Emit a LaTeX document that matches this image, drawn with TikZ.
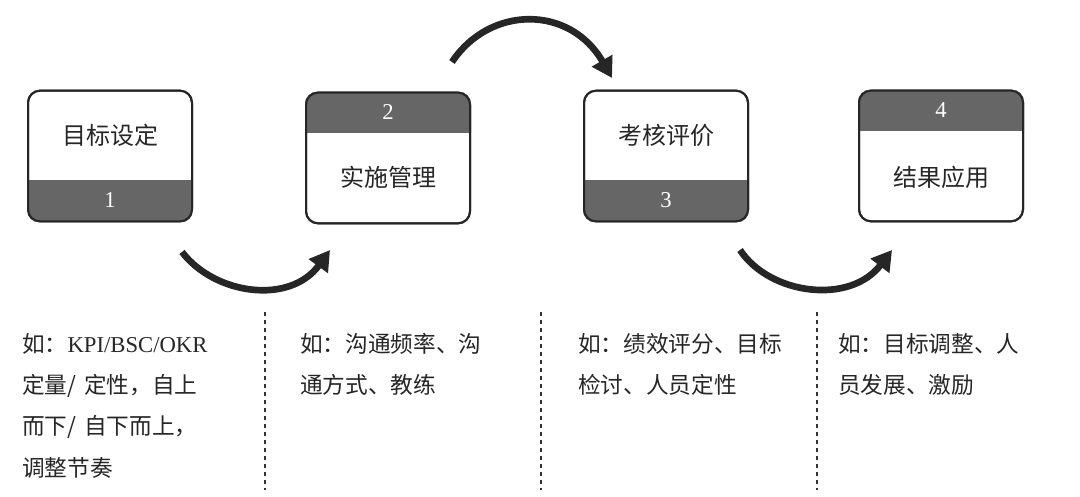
\documentclass[tikz,border=0pt]{standalone}
\usepackage{fontspec}
\setmainfont{Liberation Serif}
\newfontfamily\cjk{Noto Sans CJK SC}
\usetikzlibrary{arrows.meta}
\usetikzlibrary{positioning}
\tikzset{
  stagebox/.style={draw=black!85, line width=1.5pt, rounded corners=9pt, minimum width=123pt, minimum height=98pt},
  bandfill/.style={fill=black!60},
  stagetext/.style={font=\cjk\fontsize{18}{22}\selectfont, text=black!85},
  numtext/.style={font=\fontsize{17}{20}\selectfont, text=white},
  flowarrow/.style={line width=5pt, draw=black!85, -{Triangle[length=15pt,width=17pt]}},
  sepline/.style={dashed, line width=1pt, draw=black!80},
  notetext/.style={font=\cjk\fontsize{17}{31}\selectfont, text=black!85, align=left, anchor=north west, text width=185pt, inner sep=0pt}
}
\begin{document}
\begin{tikzpicture}[x=0.75pt,y=-0.75pt]
\useasboundingbox (0,0) rectangle (1080,496);
% stage 1
\node[stagebox] (s1) at (110,156) {};
\begin{scope}
  \clip[rounded corners=9pt] (s1.south west) rectangle (s1.north east);
  \fill[bandfill] (28,180) rectangle (192,222);
\end{scope}
\node[stagebox] at (s1) {};
\node[stagetext] (t1) at (110,135) {目标设定};
\node[numtext] (n1) at (110,200) {1};
% stage 2
\node[stagebox] (s2) at (388,158) {};
\begin{scope}
  \clip[rounded corners=9pt] (s2.south west) rectangle (s2.north east);
  \fill[bandfill] (300,90) rectangle (476,133);
\end{scope}
\node[stagebox] at (s2) {};
\node[numtext] (n2) at (388,112) {2};
\node[stagetext] (t2) at (388,177) {实施管理};
% stage 3
\node[stagebox] (s3) at (666,156) {};
\begin{scope}
  \clip[rounded corners=9pt] (s3.south west) rectangle (s3.north east);
  \fill[bandfill] (580,180) rectangle (752,222);
\end{scope}
\node[stagebox] at (s3) {};
\node[stagetext] (t3) at (666,135) {考核评价};
\node[numtext] (n3) at (666,200) {3};
% stage 4
\node[stagebox] (s4) at (941,156) {};
\begin{scope}
  \clip[rounded corners=9pt] (s4.south west) rectangle (s4.north east);
  \fill[bandfill] (855,88) rectangle (1027,131);
\end{scope}
\node[stagebox] at (s4) {};
\node[numtext] (n4) at (941,110) {4};
\node[stagetext] (t4) at (941,177) {结果应用};
% arrows
\coordinate (a1s) at (182,252);
\coordinate (a1e) at (330,250);
\coordinate (a2s) at (452,62);
\coordinate (a2e) at (612,78);
\coordinate (a3s) at (740,250);
\coordinate (a3e) at (892,250);
\draw[flowarrow] (a1s) .. controls (215,295) and (290,305) .. (a1e);
\draw[flowarrow] (a2s) .. controls (490,5) and (570,5) .. (a2e);
\draw[flowarrow] (a3s) .. controls (770,295) and (850,305) .. (a3e);
% separators
\coordinate (d1t) at (265,312); \coordinate (d1b) at (265,490);
\coordinate (d2t) at (541,312); \coordinate (d2b) at (541,490);
\coordinate (d3t) at (817,312); \coordinate (d3b) at (817,490);
\draw[sepline] (d1t) -- (d1b);
\draw[sepline] (d2t) -- (d2b);
\draw[sepline] (d3t) -- (d3b);
% notes
\node[notetext] (c1) at (22,333) {如：{\rmfamily KPI/BSC/OKR}\\定量/ 定性，自上\\而下/ 自下而上，\\调整节奏};
\node[notetext] (c2) at (300,333) {如：沟通频率、沟\\通方式、教练};
\node[notetext] (c3) at (578,333) {如：绩效评分、目标\\检讨、人员定性};
\node[notetext] (c4) at (838,333) {如：目标调整、人\\员发展、激励};
\end{tikzpicture}
\end{document}
